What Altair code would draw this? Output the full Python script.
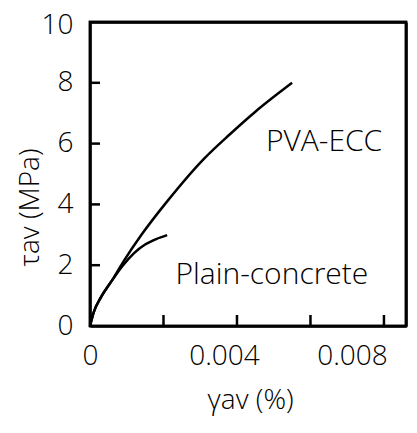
import altair as alt
import pandas as pd

# PVA-ECC curve
pva_x = [0, 0.0001, 0.0003, 0.0006, 0.0009, 0.0014, 0.0021, 0.0031, 0.0038, 0.0045, 0.0055]
pva_y = [0, 0.45, 0.95, 1.5, 2.1, 3.0, 4.1, 5.5, 6.3, 7.05, 8.0]
# Plain concrete curve
plain_x = [0, 0.0001, 0.0003, 0.0006, 0.0009, 0.0012, 0.0015, 0.0018, 0.0021]
plain_y = [0, 0.45, 0.95, 1.5, 2.0, 2.4, 2.68, 2.86, 2.99]

series_names = ["PVA-ECC", "Plain-concrete"]
label_x = [0.00637, 0.00495]
label_y = [6.05, 1.68]

x_tick_values = [0.002, 0.004, 0.006, 0.008]
y_tick_values = [2, 4, 6, 8]
x_label_values = [0, 0.004, 0.008]
y_label_values = [0, 2, 4, 6, 8, 10]

W, H = 316, 304
FONT = "Open Sans"
FW = 300
FS = 28
SW = 2.5

rows = []
for x, y in zip(pva_x, pva_y):
    rows.append({"x": x, "y": y, "s": series_names[0]})
for x, y in zip(plain_x, plain_y):
    rows.append({"x": x, "y": y, "s": series_names[1]})
df = pd.DataFrame(rows)

xs = alt.Scale(domain=[0, 0.0086], nice=False)
ys = alt.Scale(domain=[0, 10], nice=False)

x_axis = alt.Axis(
    values=x_label_values, ticks=False, domain=True, domainColor="black", domainWidth=SW,
    grid=False, labelFlush=False,
    labelExpr="datum.value == 0 ? '0' : format(datum.value, '.3f')",
    labelFont=FONT, labelFontSize=FS, labelFontWeight=FW, labelColor="black", labelPadding=16,
    labelOffset={"expr": "datum.value == 0 ? 0 : (datum.value < 0.006 ? -13 : -32)"},
    title="γav (%)", titleFont=FONT, titleFontSize=FS, titleFontWeight=FW,
    titleColor="black", titleX=160, titleY=74, titleBaseline="middle",
)
y_axis = alt.Axis(
    values=y_label_values, ticks=False, domain=True, domainColor="black", domainWidth=SW,
    grid=False, labelFlush=False,
    labelFont=FONT, labelFontSize=FS, labelFontWeight=FW, labelColor="black", labelPadding=17,
    labelOffset={"expr": "datum.value == 10 ? 3 : 0"},
    title="τav (MPa)", titleFont=FONT, titleFontSize=FS, titleFontWeight=FW,
    titleColor="black", titleX=-60, titleY=185, titleAngle=-90,
    titleBaseline="middle", titleAlign="center",
)
top_axis = alt.Axis(orient="top", labels=False, ticks=False, grid=False, domain=True,
                    domainColor="black", domainWidth=SW, title=None)
right_axis = alt.Axis(orient="right", labels=False, ticks=False, grid=False, domain=True,
                      domainColor="black", domainWidth=SW, title=None)

frame = alt.Chart(pd.DataFrame({"k": [0]})).mark_rect(
    fill="white", fillOpacity=0, stroke="black", strokeWidth=SW
).encode(x=alt.value(0), x2=alt.value(W), y=alt.value(0), y2=alt.value(H))

lines = alt.Chart(df).mark_line(color="black", strokeWidth=SW, interpolate="monotone").encode(
    x=alt.X("x:Q", scale=xs, axis=x_axis),
    y=alt.Y("y:Q", scale=ys, axis=y_axis),
    detail="s:N",
)

labels_df = pd.DataFrame({"x": label_x, "y": label_y, "t": series_names})
labels = alt.Chart(labels_df).mark_text(
    font=FONT, fontSize=30, fontWeight=FW, color="black", align="center", baseline="middle"
).encode(x=alt.X("x:Q", scale=xs, axis=None), y=alt.Y("y:Q", scale=ys, axis=None), text="t:N")

xt = alt.Chart(pd.DataFrame({"v": x_tick_values})).mark_rule(color="black", strokeWidth=SW).encode(
    x=alt.X("v:Q", scale=xs, axis=top_axis), y=alt.value(H), y2=alt.value(H - 11)
)
yt = alt.Chart(pd.DataFrame({"v": y_tick_values})).mark_rule(color="black", strokeWidth=SW).encode(
    y=alt.Y("v:Q", scale=ys, axis=right_axis), x=alt.value(0), x2=alt.value(10)
)

chart = alt.layer(lines, frame, labels, xt, yt).resolve_axis(
    x="independent", y="independent"
).properties(
    width=W, height=H,
    background="white",
    autosize=alt.AutoSizeParams(type="none"),
    padding={"left": 82, "top": 14, "right": 2, "bottom": 90},
).configure_view(stroke="black", strokeWidth=SW)

chart.save("out.html", embed_options={"renderer": "svg", "actions": False})
